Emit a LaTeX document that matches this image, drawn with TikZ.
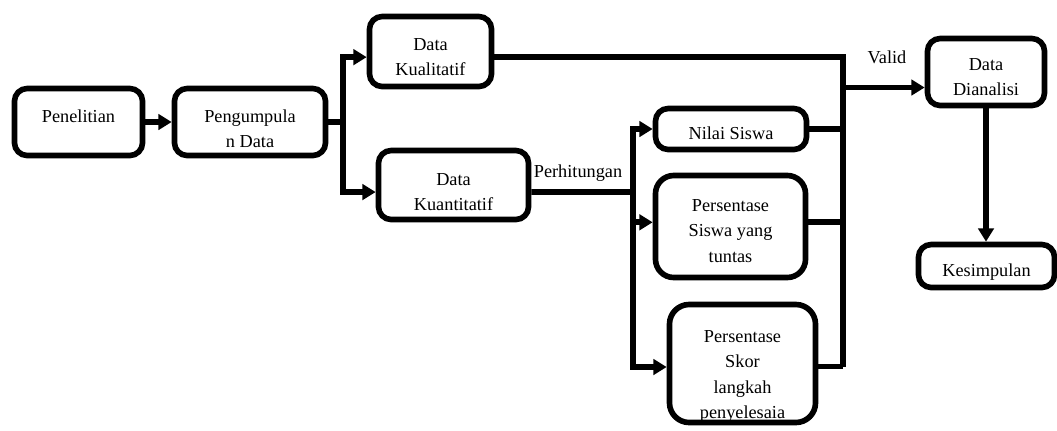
\documentclass[tikz,border=0pt]{standalone}
\usepackage{fontspec}
\setmainfont{Liberation Serif}
\usetikzlibrary{arrows.meta}
\newcommand{\boxlines}[2]{\raisebox{#1}[0pt][0pt]{\begin{tabular}[t]{@{}c@{}}#2\end{tabular}}}

\begin{document}
\begin{tikzpicture}[x=0.025cm,y=-0.025cm,>={Triangle[length=9.5pt,width=11pt]},
                line width=4pt,
                box node/.style={draw,rounded corners=9pt,inner sep=0pt,
                  font=\fontsize{13}{18}\selectfont},
                label node/.style={font=\fontsize{13}{18}\selectfont,inner sep=1pt}]
                \useasboundingbox (0,0) rectangle (1057,430);
                \node[box node,minimum width=3.2cm,minimum height=1.675cm] (pen) at (78.5,122) {\boxlines{0pt}{Penelitian}};
                \node[box node,minimum width=3.775cm,minimum height=1.675cm] (peng) at (250,122) {\boxlines{0pt}{Pengumpula\\n Data}};
                \node[box node,minimum width=3.05cm,minimum height=1.75cm] (kual) at (430.5,51.5) {\boxlines{1pt}{Data\\Kualitatif}};
                \node[box node,minimum width=3.75cm,minimum height=1.725cm] (kuan) at (453.5,185) {\boxlines{0pt}{Data\\Kuantitatif}};
                \node[box node,minimum width=3.775cm,minimum height=1.025cm] (nilai) at (731,129) {\boxlines{-7.8pt}{Nilai Siswa}};
                \node[box node,rounded corners=13pt,minimum width=3.75cm,minimum height=2.55cm] (tuntas) at (730.5,226.5) {\boxlines{10.7pt}{Persentase\\Siswa yang\\tuntas}};
                \node[box node,rounded corners=14pt,minimum width=3.65cm,minimum height=2.95cm] (skor) at (742.5,363.5) {\boxlines{15pt}{Persentase\\Skor\\langkah\\penyelesaia}};
                \node[box node,minimum width=2.925cm,minimum height=1.675cm] (analisis) at (986,72) {\boxlines{1.4pt}{Data\\Dianalisi}};
                \node[box node,minimum width=3.4cm,minimum height=1.075cm] (kesim) at (986.5,266) {\boxlines{-7.8pt}{Kesimpulan}};

                \node[label node] (hitung) at (578,173) {Perhitungan};
                \node[label node] (validlbl) at (887,57) {Valid};

                \coordinate (split1) at (343,122);
                \coordinate (split2) at (633,192);
                \coordinate (barbot) at (843,367);
                \coordinate (valid) at (843,87.5);

                \draw[->] (pen) -- (peng);
                \draw (peng.east) -- (split1);
                \draw[->] (split1) |- ([yshift=-4pt]kual.west);
                \draw[->] (split1) |- ([yshift=-5pt]kuan.west);

                \draw ([yshift=-5pt]kuan.east) -- (split2);
                \draw[->] (split2) |- (nilai.west);
                \draw[->] (split2) |- ([yshift=3pt]tuntas.west);
                \draw[->] (split2) |- ([yshift=-2.5pt]skor.west);

                \draw ([yshift=-4pt]kual.east) -| (barbot);
                \draw (nilai.east) -| (barbot);
                \draw ([yshift=3pt]tuntas.east) -| (barbot);
                \draw ([yshift=-2pt]skor.east) -| (barbot);

                \draw[->] (valid) -- (valid -| analisis.west);
                \draw[->] (analisis.south) -- (analisis.south |- kesim.north);
\end{tikzpicture}
\end{document}
